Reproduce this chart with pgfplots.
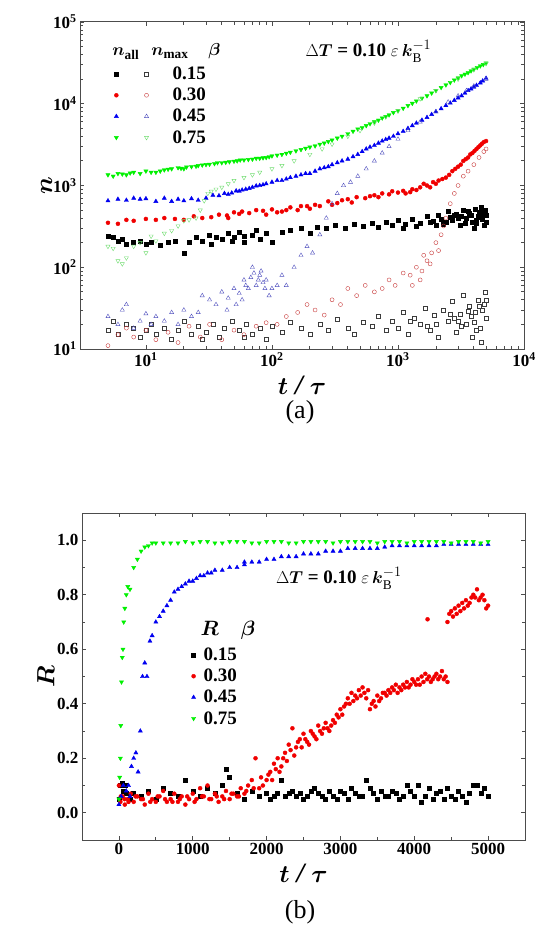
\documentclass[border=0pt]{standalone}
\usepackage{amsmath}
\usepackage{pgfplots}
\pgfplotsset{compat=1.18}
\usepackage{fontspec}
\setmainfont{Liberation Serif}
\definecolor{gG}{RGB}{0,240,0}
\definecolor{bB}{RGB}{0,0,240}
\definecolor{rR}{RGB}{240,0,0}
\definecolor{rO}{RGB}{200,60,60}
\definecolor{bO}{RGB}{80,80,190}
\definecolor{gO}{RGB}{110,220,110}
\definecolor{kO}{RGB}{60,60,60}
\begin{document}
\begin{tikzpicture}
\path (0pt,0pt) rectangle (536pt,-935pt);
\pgfplotsset{
 every axis/.append style={scale only axis, axis line style={draw=black!70,line width=1pt},
  tick style={black!70,line width=0.8pt}, tick align=inside,
  ticklabel style={font=\bfseries\fontsize{17}{17}\selectfont},
  label style={font=\bfseries\itshape\fontsize{28}{28}\selectfont}},
}
\begin{axis}[at={(80pt,-349pt)},anchor=south west,width=444pt,height=327pt,
 xmode=log,ymode=log,xmin=3,xmax=10000,ymin=10,ymax=100000,
 xtick={10,100,1000,10000},xticklabels={\textbf{10}$^{\mathbf{1}}$,\textbf{10}$^{\mathbf{2}}$,\textbf{10}$^{\mathbf{3}}$,\textbf{10}$^{\mathbf{4}}$},
 ytick={10,100,1000,10000,100000},yticklabels={\textbf{10}$^{\mathbf{1}}$,\textbf{10}$^{\mathbf{2}}$,\textbf{10}$^{\mathbf{3}}$,\textbf{10}$^{\mathbf{4}}$,\textbf{10}$^{\mathbf{5}}$},
 xlabel={$\boldsymbol{t}$ / $\boldsymbol{\tau}$},ylabel={$\boldsymbol{n}$},
 xlabel style={yshift=-2pt},ylabel style={yshift=-6pt},
 only marks,
 legend columns=2, legend style={draw=none,fill=none,at={(0.07,0.875)},anchor=north west,font=\bfseries\fontsize{19}{19}\selectfont,row sep=3pt, /tikz/every odd column/.append style={column sep=22pt}},
 legend cell align=left,
]
\addplot[black,mark=square*,mark size=2pt] coordinates {(5,240)(5.5,230)(6,210)(6.5,220)(7,190)(8,200)(9,210)(10,190)(11,200)(13,185)(15,205)(17,210)(20,150)(22,200)(25,230)(28,210)(32,250)(36,230)(40,220)(45,260)(50,230)(55,270)(60,240)(70,250)(80,220)(90,260)(100,200)(120,270)(140,280)(170,300)(200,260)(230,310)(270,300)(320,330)(380,300)(450,340)(530,320)(620,350)(700,310)(800,360)(900,330)(1000,380)(1150,340)(1300,390)(1500,350)(1700,420)(1900,370)(2100,430)(2300,340)(2500,480)(2700,380)(2900,450)(3100,330)(3300,500)(3500,400)(3700,460)(3900,360)(4100,520)(4300,420)(4500,470)(4700,390)(4900,500)(5000,430)(3000,400)(3400,350)(3800,430)(4200,380)(4600,540)(4800,330)(2600,410)(2200,390)(1800,360)(4400,440)(5000,360)(4000,300)(3200,420)(3600,480)(4150,350)(4550,410)(4850,470)(2000,330)(2400,360)(2800,430)(1400,320)(1100,300)(60,200)(75,280)(48,210)(33,190)};
\addlegendentry{}
\addplot[kO,mark=square,mark size=2pt,mark options={line width=0.4pt}] coordinates {(5,17)(5.5,22)(6,15)(7,20)(8,18)(9,14)(10,17)(11,20)(12,15)(14,18)(16,13)(18,17)(20,22)(23,15)(26,19)(30,16)(34,20)(38,14)(42,18)(48,22)(55,17)(62,20)(70,15)(80,18)(90,13)(100,19)(120,16)(140,21)(170,18)(200,15)(240,20)(280,17)(330,23)(400,18)(450,15)(530,21)(620,19)(700,25)(800,17)(900,22)(1000,18)(1100,28)(1200,15)(1350,24)(1500,20)(1650,32)(1800,17)(1950,26)(2100,14)(2300,30)(2500,22)(2700,38)(2900,16)(3100,27)(3300,45)(3500,20)(3700,33)(3900,14)(4100,28)(4300,40)(4500,18)(4700,30)(4900,50)(5000,24)(3000,22)(3800,25)(4600,12)(4800,35)(2000,20)(2600,27)(3200,19)(3600,29)(4000,21)(4400,33)(5000,40)(4200,17)(2800,24)(1700,19)(1250,22)(60,14)(28,13)};
\addlegendentry{0.15}
\addplot[rR,mark=*,mark size=2pt] coordinates {(5,350)(6,340)(7,380)(8,370)(10,390)(12,380)(14,400)(17,390)(20,380)(24,420)(28,400)(33,410)(38,440)(44,430)(50,470)(58,480)(66,460)(75,500)(85,490)(100,510)(120,480)(140,540)(170,560)(200,520)(240,560)(280,640)(330,610)(400,680)(470,720)(550,700)(650,760)(750,800)(850,780)(1000,820)(1150,800)(1300,900)(1500,950)(1700,1000)(1900,1100)(2100,1150)(2400,1250)(2700,1500)(3000,1700)(3300,2000)(3600,2200)(3900,2500)(4200,2800)(4500,3100)(4800,3400)(5000,3500)(45,400)(55,450)(90,440)(110,470)(130,500)(160,500)(190,560)(220,580)(300,580)(360,660)(430,620)(600,740)(700,720)(900,850)(1100,860)(1250,830)(1400,880)(1600,1050)(1800,950)(2000,1050)(2250,1200)(2550,1350)(2850,1600)(3150,1800)(3450,2100)(3750,2400)(4050,2650)(4350,2950)(4650,3250)};
\addlegendentry{}
\addplot[rO,mark=o,mark size=2pt,mark options={line width=0.4pt}] coordinates {(5,11)(6,15)(7,18)(8,14)(10,17)(12,13)(15,16)(18,12)(22,19)(27,14)(32,20)(40,13)(50,17)(60,15)(75,19)(90,21)(110,20)(130,25)(160,28)(190,35)(220,30)(260,26)(300,40)(350,35)(400,55)(470,45)(550,60)(650,50)(750,55)(850,70)(950,60)(1100,85)(1250,80)(1400,100)(1550,90)(1700,120)(1850,150)(2000,200)(2200,250)(2400,400)(2600,600)(2800,800)(3000,1000)(3300,1300)(3600,1500)(4000,1800)(4400,2200)(4800,2600)(5000,2800)(1500,70)(1800,110)(2100,160)(2300,320)(1300,60)(1600,140)};
\addlegendentry{0.30}
\addplot[bB,mark=triangle*,mark size=2.4pt] coordinates {(5,650)(6,680)(7,660)(8,700)(9,680)(10,690)(12,640)(14,700)(16,640)(18,680)(20,650)(23,690)(26,660)(30,700)(34,760)(38,750)(42,800)(48,810)(55,850)(62,900)(70,950)(80,1000)(90,1050)(100,1100)(120,1150)(140,1250)(170,1350)(200,1400)(240,1600)(280,1700)(330,1900)(400,2100)(480,2400)(560,2800)(650,3100)(750,3500)(850,3800)(1000,4300)(1200,5000)(1400,5800)(1700,6800)(2000,8000)(2400,9500)(2800,11000)(3200,12500)(3600,14500)(4000,16000)(4500,18000)(5000,20500)(45,780)(52,860)(58,880)(66,920)(75,990)(85,1020)(110,1150)(130,1200)(155,1300)(185,1400)(220,1500)(260,1650)(300,1800)(360,2000)(440,2250)(520,2600)(600,2950)(700,3300)(800,3650)(920,4000)(1100,4600)(1300,5400)(1550,6300)(1850,7400)(2200,8700)(2600,10200)(3000,11800)(3400,13500)(3800,15200)(4200,16800)(4700,19000)};
\addlegendentry{}
\addplot[bO,mark=triangle,mark size=2.4pt,mark options={line width=0.4pt}] coordinates {(5,25)(6,20)(6.5,30)(7,35)(8,18)(9,22)(10,27)(11,20)(12,25)(14,22)(16,28)(18,20)(20,30)(23,25)(26,28)(28,45)(32,40)(36,35)(40,50)(45,42)(50,55)(55,48)(60,70)(65,55)(70,100)(75,60)(80,80)(85,65)(90,70)(95,45)(100,55)(110,60)(120,80)(130,60)(150,100)(170,140)(190,180)(210,150)(240,250)(270,400)(300,600)(330,800)(370,1000)(420,1100)(480,1300)(560,1600)(650,2000)(750,2500)(850,3000)(1000,3700)(1200,4700)(1500,6000)(2000,8000)(2500,10500)(3000,12500)(3500,14500)(4000,16500)(5000,20000)(62,60)(68,75)(72,85)(78,70)(82,90)(88,55)(58,40)(52,35)(44,30)};
\addlegendentry{0.45}
\addplot[gG,mark=triangle*,mark size=2.4pt,mark options={rotate=180}] coordinates {(5,1350)(6,1400)(7,1350)(8,1450)(9,1400)(10,1500)(12,1450)(14,1550)(16,1600)(18,1650)(20,1600)(23,1700)(26,1750)(30,1800)(35,1850)(40,1900)(46,1950)(53,2000)(60,2050)(70,2100)(80,2150)(90,2200)(100,2300)(120,2400)(140,2550)(170,2750)(200,2950)(240,3200)(280,3450)(330,3800)(400,4300)(480,4900)(560,5400)(650,6000)(750,6700)(850,7300)(1000,8200)(1200,9500)(1400,10800)(1700,12500)(2000,14500)(2400,17000)(2800,19500)(3200,22000)(3600,24000)(4000,26500)(4500,29000)(5000,31500)(5.5,1300)(6.5,1380)(7.5,1420)(11,1450)(13,1500)(15,1580)(19,1620)(21,1680)(25,1720)(28,1780)(32,1820)(37,1900)(43,1920)(50,1980)(56,2050)(65,2080)(75,2150)(85,2180)(95,2250)(110,2350)(130,2480)(155,2650)(185,2850)(220,3050)(260,3300)(300,3600)(360,4000)(440,4600)(520,5100)(600,5700)(700,6300)(800,7000)(920,7800)(1100,8800)(1300,10100)(1550,11700)(1850,13500)(2200,15800)(2600,18200)(3000,20700)(3400,23000)(3800,25200)(4250,27800)(4750,30200)};
\addlegendentry{}
\addplot[gO,mark=triangle,mark size=2.4pt,mark options={rotate=180,line width=0.4pt}] coordinates {(5,180)(5.5,170)(6,120)(6.5,110)(7,130)(8,180)(9,200)(10,150)(11,240)(12,210)(14,260)(16,280)(18,320)(20,370)(22,380)(25,400)(27,500)(29,650)(31,800)(33,850)(36,900)(40,950)(45,1050)(50,1150)(60,1250)(70,1350)(80,1450)(100,1600)(120,1750)(150,2000)(200,2400)(250,2800)(300,3200)(400,4000)(500,4700)(650,5800)(800,6900)(1000,8200)(1500,11500)(2000,14500)(3000,20000)(4000,26000)(5000,31000)};
\addlegendentry{0.75}
\node[anchor=west,font=\bfseries\fontsize{19}{19}\selectfont] at (rel axis cs:0.065,0.91) {$\boldsymbol{n}$\textsubscript{all}\hspace{12pt}$\boldsymbol{n}$\textsubscript{max}\hspace{20pt}$\boldsymbol{\beta}$};
\node[anchor=west,font=\bfseries\fontsize{19}{19}\selectfont] at (rel axis cs:0.5,0.91) {$\Delta \boldsymbol{T}$ = 0.10 $\varepsilon\,\boldsymbol{k}_{\mathrm{B}}^{-1}$};
\end{axis}
\node[font=\fontsize{26}{26}\selectfont] at (300pt,-412pt) {(a)};

\begin{axis}[at={(82pt,-840pt)},anchor=south west,width=443pt,height=327pt,
 xmin=-500,xmax=5500,ymin=-0.1,ymax=1.1,
 xtick={0,1000,...,5000},ytick={0,0.2,...,1.0},minor xtick={500,1500,...,4500},minor ytick={0.1,0.3,...,0.9},
 /pgf/number format/assume math mode=true,/pgf/number format/1000 sep={},
 yticklabel style={/pgf/number format/.cd,fixed,fixed zerofill,precision=1},
 scaled x ticks=false,
 xlabel={$\boldsymbol{t}$ / $\boldsymbol{\tau}$},ylabel={$\boldsymbol{R}$},
 xlabel style={yshift=-2pt},ylabel style={yshift=-4pt},
 only marks,
 legend style={draw=none,fill=none,at={(0.24,0.6)},anchor=north west,font=\bfseries\fontsize{19}{19}\selectfont,row sep=3pt,nodes={inner xsep=8pt}},
 legend cell align=left,
]
\addplot[black,mark=square*,mark size=2pt] coordinates {(0,0.05)(20,0.1)(40,0.11)(60,0.08)(80,0.1)(100,0.07)(150,0.05)(200,0.07)(300,0.06)(400,0.08)(500,0.05)(600,0.09)(700,0.07)(800,0.06)(900,0.12)(1000,0.08)(1100,0.06)(1200,0.09)(1300,0.07)(1400,0.1)(1450,0.16)(1500,0.13)(1600,0.07)(1700,0.05)(1800,0.08)(1900,0.06)(2000,0.07)(2100,0.06)(2200,0.12)(2300,0.07)(2400,0.06)(2500,0.05)(2600,0.08)(2700,0.07)(2800,0.05)(2900,0.06)(3000,0.08)(3100,0.05)(3200,0.07)(3300,0.06)(3350,0.12)(3400,0.09)(3500,0.05)(3600,0.06)(3700,0.08)(3800,0.05)(3900,0.1)(4000,0.06)(4100,0.04)(4200,0.09)(4300,0.07)(4400,0.05)(4500,0.06)(4600,0.08)(4700,0.04)(4800,0.1)(4900,0.07)(5000,0.06)(2050,0.05)(2150,0.07)(2250,0.06)(2350,0.08)(2450,0.07)(2550,0.06)(2650,0.09)(2750,0.06)(2850,0.08)(2950,0.05)(3050,0.07)(3150,0.09)(3250,0.06)(3450,0.07)(3550,0.08)(3650,0.06)(3750,0.07)(3850,0.06)(3950,0.08)(4050,0.1)(4150,0.06)(4250,0.05)(4350,0.08)(4450,0.09)(4550,0.05)(4650,0.06)(4750,0.07)(4850,0.1)(4950,0.09)};
\addlegendentry{0.15}
\addplot[rR,mark=*,mark size=2pt] coordinates {(0,0.1)(20,0.04)(50,0.06)(80,0.03)(120,0.05)(160,0.07)(200,0.04)(250,0.06)(300,0.05)(350,0.03)(400,0.07)(450,0.05)(500,0.04)(550,0.06)(600,0.08)(650,0.04)(700,0.05)(750,0.07)(800,0.04)(850,0.06)(900,0.03)(950,0.05)(1000,0.07)(1050,0.05)(1100,0.09)(1150,0.06)(1200,0.1)(1250,0.05)(1300,0.07)(1350,0.04)(1400,0.06)(1450,0.08)(1500,0.05)(1550,0.07)(1600,0.06)(1650,0.09)(1700,0.07)(1750,0.1)(1800,0.12)(1850,0.2)(1900,0.09)(1950,0.1)(2000,0.12)(2050,0.15)(2100,0.18)(2150,0.2)(2200,0.17)(2250,0.22)(2300,0.25)(2350,0.31)(2400,0.24)(2450,0.27)(2500,0.29)(2550,0.26)(2600,0.3)(2650,0.28)(2700,0.32)(2750,0.29)(2800,0.33)(2850,0.3)(2900,0.34)(2950,0.36)(3000,0.38)(3050,0.39)(3100,0.42)(3150,0.44)(3200,0.43)(3250,0.45)(3300,0.46)(3350,0.42)(3400,0.38)(3450,0.41)(3500,0.43)(3550,0.42)(3600,0.44)(3650,0.45)(3700,0.46)(3750,0.47)(3800,0.46)(3850,0.47)(3900,0.48)(3950,0.47)(4000,0.48)(4050,0.49)(4100,0.5)(4150,0.51)(4200,0.5)(4250,0.49)(4300,0.51)(4350,0.5)(4400,0.49)(4450,0.48)(4180,0.71)(4450,0.7)(4500,0.74)(4550,0.75)(4600,0.76)(4650,0.77)(4700,0.78)(4750,0.77)(4800,0.8)(4850,0.82)(4900,0.79)(4950,0.78)(5000,0.76)
(25,0.06)(75,0.05)(130,0.04)(225,0.06)(325,0.05)(425,0.04)(525,0.06)(625,0.05)(725,0.04)(825,0.05)(925,0.06)(1025,0.04)(1125,0.06)(1225,0.05)(1325,0.06)(1425,0.05)(1525,0.07)(1625,0.06)(1725,0.08)(1825,0.09)(1925,0.13)(2025,0.14)(2125,0.16)(2225,0.2)(2325,0.23)(2425,0.26)(2525,0.27)(2625,0.29)(2725,0.3)(2825,0.31)(2925,0.33)(3025,0.36)(3125,0.4)(3225,0.42)(3325,0.44)(3425,0.4)(3525,0.41)(3625,0.43)(3725,0.45)(3825,0.45)(3925,0.46)(4025,0.47)(4125,0.48)(4225,0.48)(4325,0.49)(4425,0.5)(4525,0.72)(4625,0.74)(4725,0.76)(4825,0.79)(4925,0.8)(4975,0.75)
(2075,0.12)(2175,0.15)(2275,0.19)(2375,0.21)(2475,0.24)(2575,0.25)(2675,0.27)(2775,0.31)(2875,0.32)(2975,0.35)(3075,0.4)(3175,0.41)(3275,0.43)(3375,0.45)(3475,0.39)(3575,0.44)(3675,0.44)(3775,0.44)(3875,0.46)(3975,0.49)(4075,0.47)(4175,0.49)(4275,0.5)(4375,0.52)(4475,0.73)(4575,0.73)(4675,0.75)(4775,0.79)(4875,0.78)};
\addlegendentry{0.30}
\addplot[bB,mark=triangle*,mark size=2.4pt] coordinates {(0,0.03)(30,0.06)(60,0.1)(100,0.08)(130,0.1)(150,0.06)(170,0.17)(200,0.2)(230,0.22)(260,0.15)(290,0.3)(320,0.5)(350,0.55)(380,0.5)(420,0.63)(450,0.65)(500,0.7)(550,0.72)(600,0.74)(650,0.76)(700,0.78)(750,0.81)(800,0.82)(900,0.84)(1000,0.85)(1100,0.87)(1200,0.88)(1300,0.89)(1400,0.89)(1500,0.9)(1600,0.9)(1700,0.91)(1800,0.92)(1900,0.92)(2000,0.93)(2200,0.94)(2400,0.94)(2600,0.95)(2800,0.96)(3000,0.96)(3200,0.97)(3400,0.97)(3600,0.975)(3800,0.98)(4000,0.98)(4200,0.98)(4400,0.985)(4600,0.985)(4800,0.985)(5000,0.985)(850,0.83)(950,0.85)(1050,0.86)(1150,0.87)(1250,0.88)(1700,0.92)(2100,0.93)(2300,0.94)(2500,0.95)(2700,0.95)(2900,0.96)(3100,0.97)(3300,0.97)(3500,0.97)(3700,0.98)(3900,0.98)(4100,0.98)(4300,0.98)(4500,0.985)(4700,0.985)(4900,0.985)};
\addlegendentry{0.45}
\addplot[gG,mark=triangle*,mark size=2.4pt,mark options={rotate=180}] coordinates {(0,0.05)(10,0.13)(20,0.2)(25,0.32)(35,0.48)(45,0.57)(55,0.6)(65,0.7)(80,0.75)(100,0.8)(120,0.83)(150,0.82)(200,0.9)(250,0.93)(300,0.96)(350,0.975)(400,0.98)(450,0.99)(500,0.99)(600,0.99)(700,0.99)(800,0.99)(900,0.995)(1000,0.99)(1200,0.995)(1400,0.99)(1600,0.995)(1800,0.99)(2000,0.995)(2200,0.995)(2400,0.99)(2600,0.995)(2800,0.995)(3000,0.995)(3200,0.995)(3400,0.995)(3600,0.995)(3800,0.995)(4000,0.995)(4200,0.995)(4400,0.995)(4600,0.995)(4800,0.995)(5000,0.995)(1100,0.995)(1300,0.99)(1500,0.995)(1700,0.995)(1900,0.99)(2100,0.995)(2300,0.99)(2500,0.995)(2700,0.995)(2900,0.99)(3100,0.995)(3300,0.995)(3500,0.99)(3700,0.995)(3900,0.99)(4100,0.995)(4300,0.995)(4500,0.99)(4700,0.995)(4900,0.99)};
\addlegendentry{0.75}
\node[anchor=west,font=\bfseries\fontsize{22}{22}\selectfont] at (rel axis cs:0.26,0.64) {$\boldsymbol{R}$\hspace{22pt}$\boldsymbol{\beta}$};
\node[anchor=west,font=\bfseries\fontsize{19}{19}\selectfont] at (rel axis cs:0.43,0.8) {$\Delta \boldsymbol{T}$ = 0.10 $\varepsilon\,\boldsymbol{k}_{\mathrm{B}}^{-1}$};
\end{axis}
\node[font=\fontsize{26}{26}\selectfont] at (300pt,-912pt) {(b)};
\end{tikzpicture}
\end{document}
